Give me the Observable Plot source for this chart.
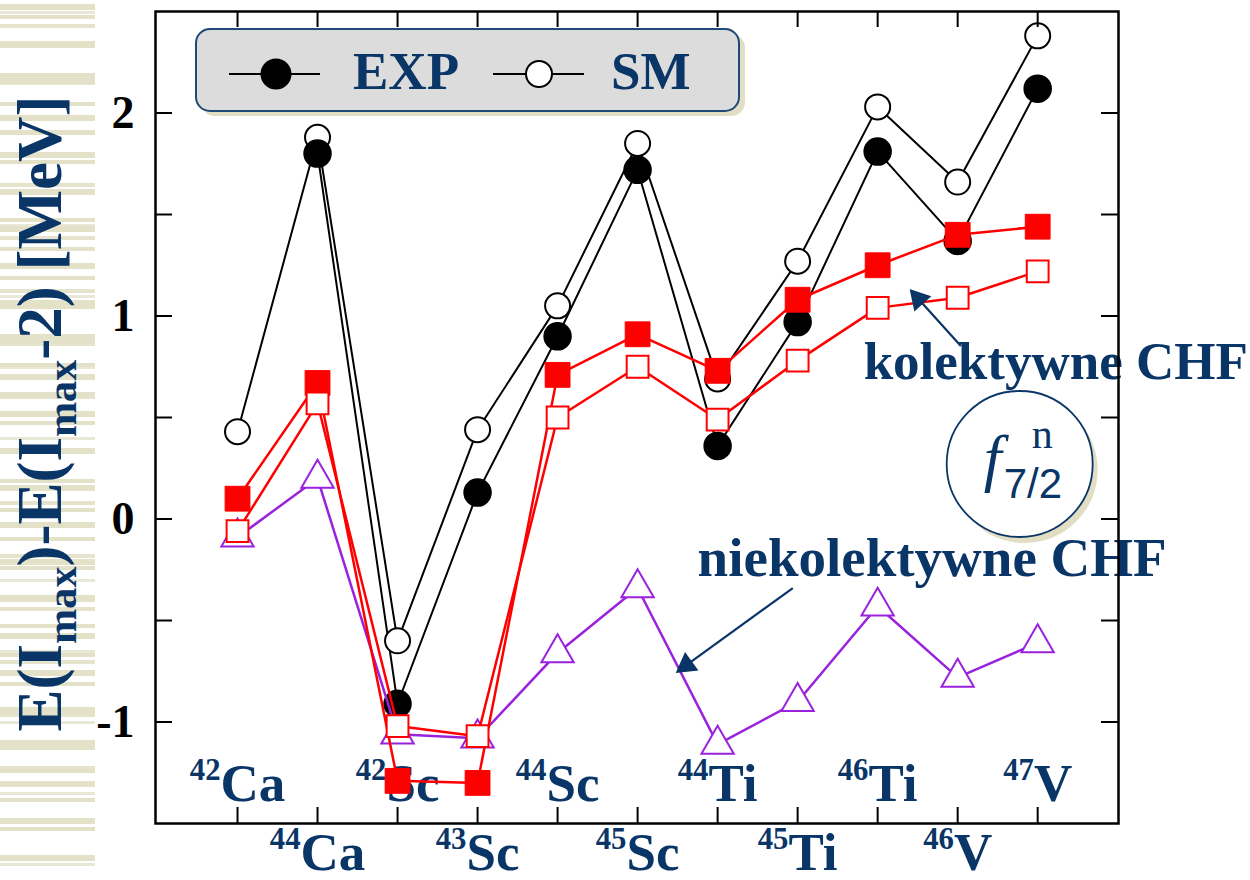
<!DOCTYPE html>
<html>
<head>
<meta charset="utf-8">
<script src="https://cdn.jsdelivr.net/npm/d3@7"></script>
<script src="https://cdn.jsdelivr.net/npm/@observablehq/plot@0.6"></script>
<style>
  body { margin: 0; background: white; }
  #wrap { position: relative; width: 1250px; height: 880px; overflow: hidden; background: white; }
  #stripes {
    position: absolute; left: 0; top: 4px; width: 95px; height: 866px;
    background:
      repeating-linear-gradient(180deg, #e3e1c8 0 6px, transparent 6px 37px),
      repeating-linear-gradient(180deg, transparent 0 11px, #e3e1c8 11px 15px, transparent 15px 29px),
      repeating-linear-gradient(180deg, transparent 0 20px, #e5e3cc 20px 24px, transparent 24px 53px),
      repeating-linear-gradient(180deg, transparent 0 7px, #e9e7d5 7px 10px, transparent 10px 71px);
  }
  #chart { position: absolute; left: 0; top: 0; }
  #legend { position: absolute; left: 0; top: 0; }
</style>
</head>
<body>
<div id="wrap">
  <div id="stripes"></div>
  <div id="chart"></div>
  <svg id="legend" width="760" height="130" xmlns="http://www.w3.org/2000/svg"></svg>
</div>
<script>
// ---------------- data ----------------
const categories  = ["42Ca", "44Ca", "42Sc", "43Sc", "44Sc", "45Sc", "44Ti", "45Ti", "46Ti", "46V", "47V"];
const massNumbers = ["42", "44", "42", "43", "44", "45", "44", "45", "46", "46", "47"];
const symbols     = ["Ca", "Ca", "Sc", "Sc", "Sc", "Sc", "Ti", "Ti", "Ti", "V", "V"];

const expValues        = [null, 1.80, -0.91, 0.13, 0.90, 1.72, 0.36, 0.97, 1.81, 1.37, 2.12];
const smValues         = [0.43, 1.88, -0.60, 0.44, 1.05, 1.85, 0.69, 1.27, 2.03, 1.66, 2.38];
const chfFilledValues  = [0.10, 0.67, -1.29, -1.30, 0.71, 0.91, 0.73, 1.08, 1.25, 1.40, 1.44];
const chfCollValues    = [-0.06, 0.57, -1.02, -1.07, 0.50, 0.75, 0.49, 0.78, 1.04, 1.09, 1.22];
const chfNonCollValues = [-0.09, 0.20, -1.06, -1.08, -0.66, -0.34, -1.11, -0.90, -0.43, -0.78, -0.61];

const yTickValues = [-1, -0.5, 0, 0.5, 1, 1.5, 2];
const yTickLabels = [-1, 0, 1, 2];
const yAxisLabel = "E(I_{max})-E(I_{max}-2) [MeV]";
const legendLabels = ["EXP", "SM"];
const annotationTexts = [
  {text: "kolektywne CHF", x: 7.825, y: 0.69, size: 53},
  {text: "niekolektywne CHF", x: 5.75, y: -0.281, size: 55}
];
const arrowsData = [
  {x1: 6.94, y1: -0.34, x2: 5.61, y2: -0.72, rot: -126},
  {x1: 9.04, y1: 0.852, x2: 8.51, y2: 1.084, rot: -42}
];
const shellLabel = {f: "f", sup: "n", sub: "7/2", cx: 9.775, cy: 0.271};

// ---------------- table ----------------
const rows = categories.map((c, i) => ({
  i, name: c, mass: massNumbers[i], sym: symbols[i],
  exp: expValues[i], sm: smValues[i],
  chfA: chfFilledValues[i], chfC: chfCollValues[i], chfN: chfNonCollValues[i]
}));

const navy = "#0a3567";
const red = "#ff0000";
const purple = "#9a22dd";
const serif = "'Liberation Serif','Times New Roman',Times,serif";
const sans = "'Liberation Sans',Arial,Helvetica,sans-serif";

const W = 1250, H = 880, mL = 155, mR = 132, mT = 11, mB = 57;
const plotW = W - mL - mR, plotH = H - mT - mB;
const tickLen = 17;

const chart = Plot.plot({
  width: W, height: H,
  marginLeft: mL, marginRight: mR, marginTop: mT, marginBottom: mB,
  style: {background: "transparent", overflow: "visible"},
  x: {type: "linear", domain: [-1.025, 11.01], axis: null},
  y: {domain: [-1.5, 2.5], axis: null},
  marks: [
    // isotope labels (inside row and below row)
    Plot.text(rows.filter(d => d.i % 2 === 0), {
      x: "i", frameAnchor: "bottom", dy: -23, lineAnchor: "bottom", textAnchor: "middle",
      text: d => `^{${d.mass}}${d.sym}`,
      fontSize: 53, fontWeight: "bold", fontFamily: serif, fill: navy
    }),
    Plot.text(rows.filter(d => d.i % 2 === 1), {
      x: "i", frameAnchor: "bottom", dy: 46, lineAnchor: "bottom", textAnchor: "middle",
      text: d => `^{${d.mass}}${d.sym}`,
      fontSize: 53, fontWeight: "bold", fontFamily: serif, fill: navy
    }),
    // y tick labels
    Plot.text(yTickLabels, {
      y: d => d, frameAnchor: "left", dx: -21, textAnchor: "end",
      text: d => String(d),
      fontSize: 46, fontWeight: "bold", fontFamily: serif, fill: "black"
    }),
    // y axis label
    Plot.text([yAxisLabel], {
      frameAnchor: "left", dx: -95, dy: -4, rotate: -90, lineAnchor: "bottom", textAnchor: "middle",
      text: d => d, fontSize: 63, fontWeight: "bold", fontFamily: serif, fill: navy
    }),
    // EXP / SM
    Plot.line(rows, {x: "i", y: "sm", stroke: "black", strokeWidth: 2}),
    Plot.line(rows.filter(d => d.exp != null), {x: "i", y: "exp", stroke: "black", strokeWidth: 2}),
    Plot.dot(rows, {x: "i", y: "sm", r: 12.5, fill: "white", stroke: "black", strokeWidth: 2}),
    Plot.dot(rows.filter(d => d.exp != null), {x: "i", y: "exp", r: 13.5, fill: "black", stroke: "black"}),
    // non-collective CHF
    Plot.line(rows, {x: "i", y: "chfN", stroke: purple, strokeWidth: 2.5}),
    Plot.dot(rows, {x: "i", y: "chfN", symbol: "triangle", r: 12, fill: "white", stroke: purple, strokeWidth: 2}),
    // CHF filled squares
    Plot.line(rows, {x: "i", y: "chfA", stroke: red, strokeWidth: 2.5}),
    Plot.dot(rows, {x: "i", y: "chfA", symbol: "square", r: 14, fill: red, stroke: red, strokeWidth: 1}),
    // collective CHF open squares
    Plot.line(rows, {x: "i", y: "chfC", stroke: red, strokeWidth: 2.5}),
    Plot.dot(rows, {x: "i", y: "chfC", symbol: "square", r: 12.3, fill: "white", stroke: red, strokeWidth: 2}),
    // annotations
    Plot.text(annotationTexts, {
      x: "x", y: "y", text: "text", textAnchor: "start", lineAnchor: "bottom",
      fontSize: d => d.size, fontWeight: "bold", fontFamily: serif, fill: navy
    }),
    Plot.link(arrowsData, {x1: "x1", y1: "y1", x2: "x2", y2: "y2", stroke: navy, strokeWidth: 2.2}),
    Plot.dot(arrowsData, {x: "x2", y: "y2", symbol: "triangle", r: 7.5, fill: navy, stroke: navy, rotate: "rot"}),
    // f_{7/2}^n circle
    Plot.dot([shellLabel], {x: "cx", y: "cy", r: 73, fill: "#e2dec3", dx: 5, dy: 6}),
    Plot.dot([shellLabel], {x: "cx", y: "cy", r: 73, fill: "white", stroke: navy, strokeWidth: 1.8}),
    Plot.text([shellLabel], {x: "cx", y: "cy", text: "f", dx: -36, dy: 15, textAnchor: "start", lineAnchor: "bottom",
      fontSize: 64, fontStyle: "italic", fontFamily: serif, fill: navy}),
    Plot.text([shellLabel], {x: "cx", y: "cy", text: "sup", dx: 12, dy: -16, textAnchor: "start", lineAnchor: "bottom",
      fontSize: 42, fontFamily: serif, fill: navy}),
    Plot.text([shellLabel], {x: "cx", y: "cy", text: "sub", dx: -16, dy: 34, textAnchor: "start", lineAnchor: "bottom",
      fontSize: 42, fontFamily: sans, fill: navy}),
    // frame and inward ticks
    Plot.frame({stroke: "black", strokeWidth: 2.5}),
    Plot.tickY(yTickValues, {y: d => d, insetRight: plotW - tickLen, stroke: "black", strokeWidth: 2}),
    Plot.tickY(yTickValues, {y: d => d, insetLeft: plotW - tickLen, stroke: "black", strokeWidth: 2}),
    Plot.tickX(rows, {x: "i", insetTop: plotH - tickLen + 1, stroke: "black", strokeWidth: 2}),
    Plot.tickX(rows, {x: "i", insetBottom: plotH - tickLen + 1, stroke: "black", strokeWidth: 2})
  ]
});

document.getElementById("chart").appendChild(chart);

// rich text: ^{..} superscript, _{..} subscript
d3.select(chart).selectAll("text").each(function () {
  const s = this.textContent;
  if (!/[\^_]\{/.test(s)) return;
  const fs = parseFloat(this.getAttribute("font-size") || this.parentNode.getAttribute("font-size")) || 52;
  const re = /([\^_])\{([^}]*)\}/g;
  const parts = [];
  let last = 0, m;
  while ((m = re.exec(s))) {
    if (m.index > last) parts.push({t: s.slice(last, m.index), k: "n"});
    parts.push({t: m[2], k: m[1] === "^" ? "sup" : "sub"});
    last = re.lastIndex;
  }
  if (last < s.length) parts.push({t: s.slice(last), k: "n"});
  this.textContent = "";
  let offset = 0;
  for (const p of parts) {
    const target = p.k === "sup" ? -0.39 * fs : p.k === "sub" ? 0.25 * fs : 0;
    const size = p.k === "n" ? fs : p.k === "sup" ? 0.58 * fs : 0.67 * fs;
    const ts = d3.select(this).append("tspan").attr("font-size", size).text(p.t);
    if (target - offset) ts.attr("dy", target - offset);
    offset = target;
  }
});

// legend box
const lg = d3.select("#legend");
lg.append("rect").attr("x", 201).attr("y", 34).attr("width", 544).attr("height", 82).attr("rx", 14)
  .attr("fill", "#e2dec3");
lg.append("rect").attr("x", 196).attr("y", 29).attr("width", 543).attr("height", 82).attr("rx", 14)
  .attr("fill", "#dcdcdc").attr("stroke", "#1f4a78").attr("stroke-width", 2);
const items = [
  {label: legendLabels[0], x1: 229, x2: 320, cx: 276, tx: 353, fill: "black", r: 14.5},
  {label: legendLabels[1], x1: 493, x2: 584, cx: 539, tx: 611, fill: "white", r: 13}
];
for (const it of items) {
  lg.append("line").attr("x1", it.x1).attr("x2", it.x2).attr("y1", 74).attr("y2", 74)
    .attr("stroke", "black").attr("stroke-width", 2);
  lg.append("circle").attr("cx", it.cx).attr("cy", 74).attr("r", it.r)
    .attr("fill", it.fill).attr("stroke", "black").attr("stroke-width", 2);
  lg.append("text").attr("x", it.tx).attr("y", 89).text(it.label)
    .attr("font-family", serif).attr("font-weight", "bold").attr("font-size", 53).attr("fill", navy);
}
</script>
</body>
</html>
